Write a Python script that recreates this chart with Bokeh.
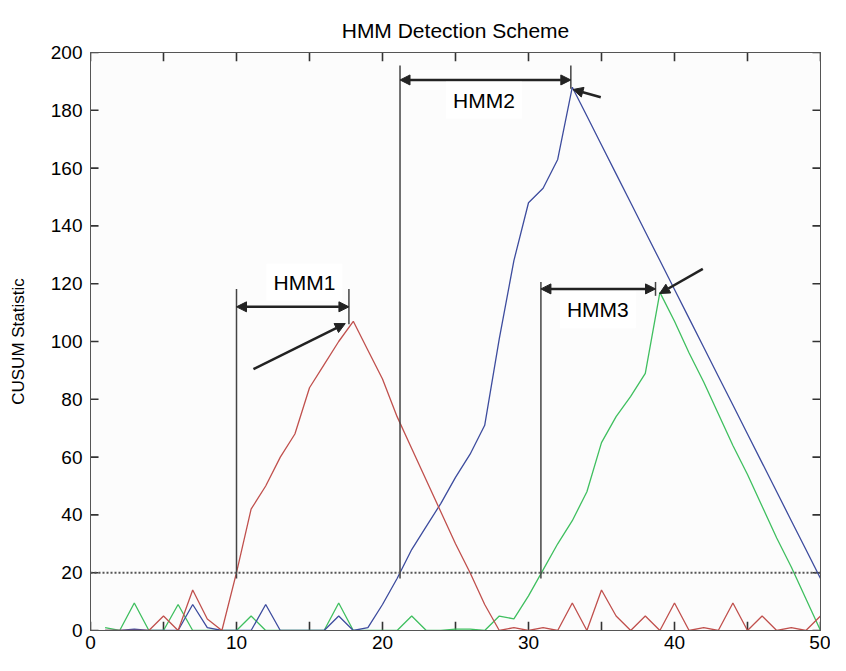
from bokeh.plotting import figure
from bokeh.models import (Range1d, LinearAxis, FixedTicker, Span, Arrow, NormalHead,
                          Label, CustomJSTickFormatter, ColumnDataSource)
from bokeh.embed import file_html
from bokeh.resources import INLINE

# ---------------- data ----------------
t = list(range(1, 51))
hmm1 = [0, 0, 0, 0, 5, 0, 14, 4, 0, 20,
        42, 50, 60, 68, 84, 92, 100, 107, 97, 87,
        74, 63, 52, 41, 30, 20, 9, 0, 1, 0,
        1, 0, 9.5, 0, 14, 5, 0, 5, 0, 9.5,
        0, 1, 0, 9.5, 0, 5, 0, 1, 0, 5]
hmm2 = [0, 0, 0.5, 0, 0, 0, 9, 1, 0, 0,
        0, 9, 0, 0, 0, 0, 5, 0, 1, 9,
        18, 28, 36, 44, 53, 61, 71, 101, 128, 148,
        153, 163, 188, 178, 168, 158, 148, 138, 128, 118,
        108, 98, 88, 78, 68, 58, 48, 38, 28, 18]
hmm3 = [1, 0, 9.5, 0, 0, 9, 0, 0, 0, 0,
        5, 0, 0, 0, 0, 0, 9.5, 0, 0, 0,
        0, 5, 0, 0, 0.5, 0.5, 0, 5, 4, 12,
        21, 30, 38, 48, 65, 74, 81, 89, 117, 107,
        96, 86, 75, 64, 54, 43, 32, 22, 11, 0]
threshold = 20
x_ticks = [0, 10, 20, 30, 40, 50]
x_minor = [5, 15, 25, 35, 45]
y_ticks = [0, 20, 40, 60, 80, 100, 120, 140, 160, 180, 200]

# annotation layout (detection interval brackets and pointers)
names = ["HMM1", "HMM2", "HMM3"]
det_start = [10.0, 21.2, 30.85]
det_peak = [17.7, 32.9, 38.7]
bracket_y = [112, 190.5, 118.2]
bracket_top = [118.2, 195.5, 120.6]
peak_line_bottom = [106, 187.5, 115.8]
line_bottom = 18
label_xy = [(14.65, 120.5), (26.95, 183.5), (34.75, 111)]
pointer = [((11.16, 90.4), (17.45, 106.2)),
           ((34.95, 184.5), (33.05, 187.2)),
           ((41.94, 125.1), (38.98, 116.6))]

FONT = "Liberation Sans"
X0, X1, Y0, Y1 = 0, 50, 0, 200

p = figure(width=830, height=655, x_range=Range1d(X0, X1), y_range=Range1d(Y0, Y1),
           output_backend="svg", toolbar_location=None,
           min_border_left=90, min_border_right=10, min_border_top=52, min_border_bottom=25,
           background_fill_color="#fcfcfc", border_fill_color="white")
p.grid.visible = False
p.outline_line_color = "#555555"

p.title.text = "HMM Detection Scheme"
p.title.align = "center"
p.title.text_font = FONT
p.title.text_font_size = "21px"
p.title.text_font_style = "normal"
p.title.text_color = "black"
p.title.standoff = 22

xt = FixedTicker(ticks=sorted(x_ticks + x_minor), minor_ticks=[])
yt = FixedTicker(ticks=y_ticks, minor_ticks=[])


def style(ax):
    ax.axis_line_color = "#555555"
    ax.major_tick_in = 0
    ax.major_tick_out = 0
    ax.minor_tick_in = 0
    ax.minor_tick_out = 0
    ax.major_label_text_font = FONT
    ax.major_label_text_font_size = "19px"
    ax.major_label_text_color = "black"


# bottom axis shows labels only at multiples of 10
p.xaxis.ticker = xt
p.xaxis.formatter = CustomJSTickFormatter(code="return (tick % 10 === 0) ? String(tick) : ''")
p.yaxis.ticker = yt
style(p.xaxis[0])
style(p.yaxis[0])
p.xaxis.major_label_standoff = 5
p.yaxis.major_label_standoff = 8
p.yaxis.axis_label = "CUSUM Statistic"
p.yaxis.axis_label_text_font = FONT
p.yaxis.axis_label_text_font_size = "17px"
p.yaxis.axis_label_text_font_style = "normal"
p.yaxis.axis_label_text_color = "black"
p.yaxis.axis_label_standoff = 20

blank = CustomJSTickFormatter(code="return ''")
top = LinearAxis(ticker=xt, formatter=blank, major_label_standoff=0)
right = LinearAxis(ticker=yt, formatter=blank, major_label_standoff=0)
style(top)
style(right)
p.add_layout(top, "above")
p.add_layout(right, "right")

# box-style inward tick marks on all four sides, derived from the tick lists
tick_len_y = 3.0    # y units (~8.5 px)
tick_len_x = 0.55   # x units (~8 px)
xt_all = sorted(x_ticks + x_minor)
nx, ny = len(xt_all), len(y_ticks)
tick_style = dict(line_color="#333333", line_width=1.6)
p.segment(x0=xt_all, y0=[Y1] * nx, x1=xt_all, y1=[Y1 - tick_len_y] * nx, **tick_style)
p.segment(x0=xt_all, y0=[Y0] * nx, x1=xt_all, y1=[Y0 + tick_len_y] * nx, **tick_style)
p.segment(x0=[X0] * ny, y0=y_ticks, x1=[X0 + tick_len_x] * ny, y1=y_ticks, **tick_style)
p.segment(x0=[X1] * ny, y0=y_ticks, x1=[X1 - tick_len_x] * ny, y1=y_ticks, **tick_style)

# threshold
p.add_layout(Span(location=threshold, dimension="width", line_color="#555555",
                  line_width=2, line_dash="2 2"))

# CUSUM curves
src = ColumnDataSource(dict(t=t, hmm1=hmm1, hmm2=hmm2, hmm3=hmm3))
p.line("t", "hmm3", source=src, line_color="#3fbf5f", line_width=1.3)
p.line("t", "hmm2", source=src, line_color="#3d4c9e", line_width=1.3)
p.line("t", "hmm1", source=src, line_color="#c0504d", line_width=1.3)

# detection brackets
p.segment(x0=det_start, y0=[line_bottom] * 3, x1=det_start, y1=bracket_top,
          line_color="#444444", line_width=1.5)
p.segment(x0=det_peak, y0=peak_line_bottom, x1=det_peak, y1=bracket_top,
          line_color="#444444", line_width=1.5)

for i in range(3):
    p.add_layout(Arrow(start=NormalHead(size=10, fill_color="#222222", line_color="#222222"),
                       end=NormalHead(size=10, fill_color="#222222", line_color="#222222"),
                       x_start=det_start[i], y_start=bracket_y[i],
                       x_end=det_peak[i], y_end=bracket_y[i],
                       line_color="#222222", line_width=2.5))
    (xs, ys), (xe, ye) = pointer[i]
    p.add_layout(Arrow(end=NormalHead(size=10, fill_color="#222222", line_color="#222222"),
                       x_start=xs, y_start=ys, x_end=xe, y_end=ye,
                       line_color="#222222", line_width=2.5))
    lx, ly = label_xy[i]
    p.add_layout(Label(x=lx, y=ly, text=names[i], text_font=FONT, text_font_size="21px",
                       text_align="center", text_baseline="middle", text_color="black",
                       background_fill_color="white", padding=7))

open("out.html", "w").write(file_html(p, INLINE))
